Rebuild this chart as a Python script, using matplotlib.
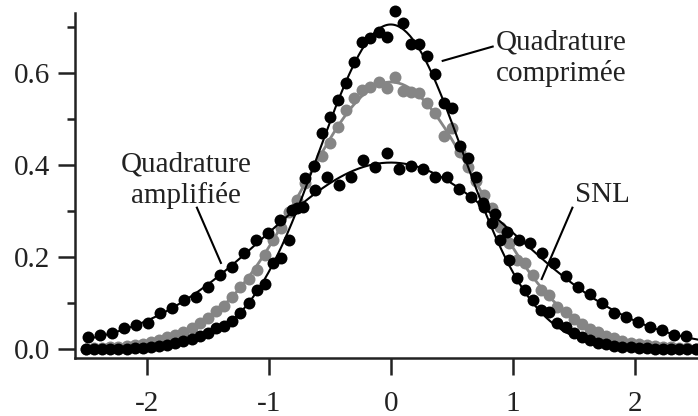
import matplotlib
matplotlib.use('Agg')
import matplotlib.pyplot as plt
import numpy as np

# squeezed quadrature (black, narrow), step 1/15
comp_x = np.linspace(-2.5, 2.5, 76)
comp_y = [0.000, 0.000, 0.000, 0.000, 0.001, 0.001, 0.002, 0.003, 0.004, 0.006,
          0.008, 0.012, 0.018, 0.022, 0.028, 0.034, 0.045, 0.050, 0.060, 0.078,
          0.100, 0.128, 0.141, 0.187, 0.198, 0.237, 0.307, 0.372, 0.398, 0.470,
          0.504, 0.541, 0.578, 0.624, 0.667, 0.676, 0.689, 0.678, 0.735, 0.709,
          0.663, 0.663, 0.637, 0.598, 0.535, 0.524, 0.440, 0.415, 0.374, 0.309,
          0.274, 0.237, 0.193, 0.154, 0.128, 0.107, 0.085, 0.080, 0.056, 0.048,
          0.035, 0.026, 0.020, 0.013, 0.010, 0.007, 0.005, 0.004, 0.003, 0.002,
          0.001, 0.001, 0.001, 0.000, 0.000, 0.000]

# shot noise level (grey)
snl_x = np.linspace(-2.5, 2.5, 76)
snl_y = [0.001, 0.002, 0.003, 0.004, 0.005, 0.006, 0.008, 0.011, 0.015, 0.020,
         0.025, 0.030, 0.036, 0.046, 0.056, 0.067, 0.082, 0.094, 0.112, 0.134,
         0.153, 0.172, 0.205, 0.237, 0.262, 0.298, 0.324, 0.360, 0.398, 0.420,
         0.448, 0.483, 0.520, 0.545, 0.563, 0.570, 0.581, 0.567, 0.591, 0.561,
         0.559, 0.557, 0.535, 0.513, 0.463, 0.480, 0.428, 0.396, 0.365, 0.335,
         0.307, 0.265, 0.230, 0.193, 0.187, 0.161, 0.128, 0.117, 0.091, 0.080,
         0.066, 0.054, 0.044, 0.036, 0.029, 0.023, 0.018, 0.014, 0.011, 0.008,
         0.006, 0.005, 0.004, 0.003, 0.002, 0.001]

# amplified quadrature (black, wide)
ampl_x = np.linspace(-2.48, 2.42, 51)
ampl_y = [0.026, 0.030, 0.035, 0.045, 0.052, 0.057, 0.078, 0.089, 0.107, 0.113,
          0.135, 0.161, 0.178, 0.209, 0.237, 0.252, 0.280, 0.302, 0.309, 0.346,
          0.374, 0.356, 0.374, 0.411, 0.396, 0.426, 0.391, 0.398, 0.391, 0.374,
          0.374, 0.348, 0.330, 0.317, 0.293, 0.254, 0.237, 0.230, 0.208, 0.187,
          0.159, 0.135, 0.120, 0.100, 0.078, 0.070, 0.059, 0.048, 0.041, 0.030,
          0.028]

# gaussian fits: (height, width)
comp_fit = (0.705, 0.59)
snl_fit = (0.58, 0.72)
ampl_fit = (0.405, 1.03)


def gauss(x, p):
    return p[0] * np.exp(-x**2 / (2 * p[1]**2))


def output():
    plt.rcParams['font.family'] = ['Liberation Serif', 'DejaVu Serif']
    ink = '#222222'
    grey = '#858585'
    ms = 8.6

    fig = plt.figure(figsize=(6.98, 4.16), dpi=100)
    ax = fig.add_axes([0.1074, 0.1394, 0.8926, 0.8294])

    xf = np.linspace(-2.5, 2.6, 400)
    ax.plot(snl_x, snl_y, 'o', color=grey, ms=ms, mew=0, zorder=2)
    ax.plot(xf, gauss(xf, snl_fit), color=grey, lw=2, zorder=3)
    ax.plot(ampl_x, ampl_y, 'o', color='black', ms=ms, mew=0, zorder=4)
    ax.plot(xf, gauss(xf, ampl_fit), color='black', lw=1.5, zorder=5)
    ax.plot(comp_x, comp_y, 'o', color='black', ms=ms, mew=0, zorder=4,
            clip_on=False)
    ax.plot(xf, gauss(xf, comp_fit), color='black', lw=1.5, zorder=5)

    ax.set_xlim(-2.59, 2.52)
    ax.set_ylim(-0.0196, 0.73)
    for s in ('top', 'right'):
        ax.spines[s].set_visible(False)
    for s in ('left', 'bottom'):
        ax.spines[s].set_linewidth(1.8)
        ax.spines[s].set_color(ink)

    ax.set_xticks([-2, -1, 0, 1, 2])
    ax.set_xticklabels(['-2', '-1', '0', '1', '2'])
    ax.set_yticks([0.0, 0.2, 0.4, 0.6])
    ax.set_yticklabels(['0.0', '0.2', '0.4', '0.6'])
    ax.set_yticks([0.1, 0.3, 0.5, 0.7], minor=True)
    ax.tick_params(which='major', length=12, width=1.8, color=ink,
                   labelsize=21, labelcolor=ink)
    ax.tick_params(axis='x', pad=12)
    ax.tick_params(axis='y', pad=6)
    ax.tick_params(which='minor', length=6, width=1.8, color=ink)

    fs = 21
    ax.text(1.40, 0.632, 'Quadrature\ncomprimée', ha='center', va='center',
            fontsize=fs, color=ink, linespacing=1.2)
    ax.plot([0.426, 0.836], [0.626, 0.657], color='black', lw=1.5)
    ax.text(-1.68, 0.367, 'Quadrature\namplifiée', ha='center', va='center',
            fontsize=fs, color=ink, linespacing=1.2)
    ax.plot([-1.59, -1.393], [0.307, 0.187], color='black', lw=1.5)
    ax.text(1.51, 0.335, 'SNL', ha='left', va='center', fontsize=fs, color=ink)
    ax.plot([1.49, 1.238], [0.307, 0.152], color='black', lw=1.5)

    fig.savefig('out.png', dpi=100)


if __name__ == '__main__':
    output()
